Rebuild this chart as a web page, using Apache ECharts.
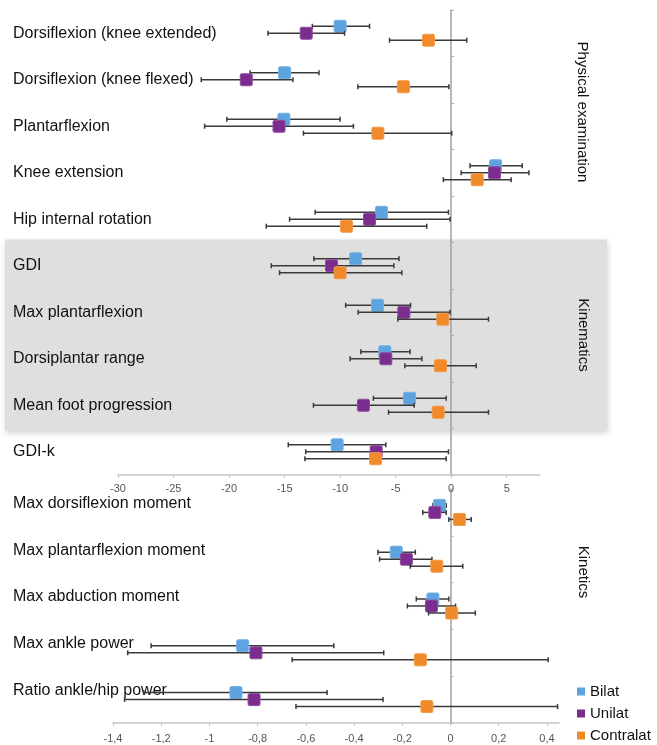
<!DOCTYPE html>
<html>
<head>
<meta charset="utf-8">
<script src="https://cdn.jsdelivr.net/npm/echarts@6/dist/echarts.min.js"></script>
<style>
html,body{margin:0;padding:0;background:#fff;}
#c{width:657px;height:745px;}
</style>
</head>
<body>
<div id="c"></div>
<script>
const physCats = ['Dorsiflexion (knee extended)','Dorsiflexion (knee flexed)','Plantarflexion','Knee extension','Hip internal rotation','GDI','Max plantarflexion','Dorsiplantar range','Mean foot progression','GDI-k'];
const kineticCats = ['Max dorsiflexion moment','Max plantarflexion moment','Max abduction moment','Max ankle power','Ratio ankle/hip power'];
const groupNames = ['Bilat','Unilat','Contralat'];
const sectionLabels = ['Physical examination','Kinematics','Kinetics'];
const kinematicsFrom = 'GDI';
const kinematicsTo = 'Mean foot progression';

// [mean, low, high]
const bilatTop = [
[-10.0,-12.5,-7.35],
[-15.0,-18.1,-11.9],
[-15.06,-20.2,-10.0],
[4.0,1.7,6.4],
[-6.27,-12.25,-0.24],
[-8.6,-12.36,-4.7],
[-6.63,-9.5,-3.66],
[-5.97,-8.13,-3.7],
[-3.75,-7.0,-0.45],
[-10.27,-14.67,-5.88]
];
const unilatTop = [
[-13.05,-16.5,-9.6],
[-18.45,-22.5,-14.25],
[-15.5,-22.2,-8.8],
[3.9,0.9,7.0],
[-7.35,-14.55,-0.1],
[-10.77,-16.2,-5.16],
[-4.26,-8.37,-0.1],
[-5.88,-9.1,-2.64],
[-7.9,-12.4,-3.33],
[-6.75,-13.1,-0.24]
];
const contraTop = [
[-2.04,-5.55,1.4],
[-4.3,-8.4,-0.2],
[-6.6,-13.3,0.05],
[2.34,-0.7,5.4],
[-9.42,-16.65,-2.2],
[-10.0,-15.45,-4.44],
[-0.75,-4.8,3.36],
[-0.96,-4.17,2.25],
[-1.17,-5.64,3.36],
[-6.8,-13.17,-0.45]
];
const bilatBottom = [
[-0.046,-0.073,-0.018],
[-0.225,-0.301,-0.146],
[-0.073,-0.142,-0.007],
[-0.862,-1.242,-0.484],
[-0.890,-1.273,-0.512]
];
const unilatBottom = [
[-0.065,-0.115,-0.018],
[-0.183,-0.294,-0.077],
[-0.079,-0.179,0.021],
[-0.807,-1.339,-0.277],
[-0.815,-1.352,-0.280]
];
const contraBottom = [
[0.037,-0.007,0.086],
[-0.057,-0.167,0.051],
[0.005,-0.091,0.103],
[-0.125,-0.657,0.405],
[-0.098,-0.641,0.444]
];

const colors = ['#5DA3DF','#7B2D8F','#F08A2A'];
const FONT = 'Liberation Sans, Arial, sans-serif';

function makeRender(offsetFrac){
  return function(params, api){
    const m = api.value(0), cat = api.value(1), lo = api.value(2), hi = api.value(3);
    const band = api.size([0,1])[1];
    const p = api.coord([m, cat]);
    const pl = api.coord([lo, cat]);
    const ph = api.coord([hi, cat]);
    const y = p[1] + offsetFrac*band;
    const col = api.visual('color');
    const lineStyle = {stroke:'#3a3a3a', lineWidth:1.5};
    const cap = 2.5;
    const s = 12;
    return {
      type:'group',
      children:[
        {type:'line', shape:{x1:pl[0], y1:y, x2:ph[0], y2:y}, style:lineStyle},
        {type:'line', shape:{x1:pl[0], y1:y-cap, x2:pl[0], y2:y+cap}, style:lineStyle},
        {type:'line', shape:{x1:ph[0], y1:y-cap, x2:ph[0], y2:y+cap}, style:lineStyle},
        {type:'rect', shape:{x:p[0]-s/2, y:y-s/2, width:s, height:s, r:1.5}, style:{fill:col, stroke:echarts.color.lift(col,0.15), lineWidth:1}}
      ]
    };
  };
}

function toData(arr){ return arr.map((d,i)=>[d[0], i, d[1], d[2]]); }

const offsets = [-0.15, 0, 0.15];
const topSets = [bilatTop, unilatTop, contraTop];
const bottomSets = [bilatBottom, unilatBottom, contraBottom];
const series = [];
groupNames.forEach((name, g)=>{
  series.push({type:'custom', name:name, xAxisIndex:0, yAxisIndex:0, renderItem:makeRender(offsets[g]), itemStyle:{color:colors[g]}, encode:{x:0,y:1}, data:toData(topSets[g]), z:3+g});
  series.push({type:'custom', name:name, xAxisIndex:1, yAxisIndex:2, renderItem:makeRender(offsets[g]), itemStyle:{color:colors[g]}, encode:{x:0,y:1}, data:toData(bottomSets[g]), z:3+g});
});

function commaFmt(v){ return String(Number(v.toFixed(1))).replace('.', ','); }

const option = {
  animation:false,
  color:colors,
  textStyle:{fontFamily:FONT},
  grid:[
    {left:118, right:117, top:10, height:465},
    {left:113, right:98, top:489, height:234}
  ],
  xAxis:[
    {gridIndex:0, type:'value', min:-30, max:8, interval:5,
     axisLine:{show:true, onZero:false, lineStyle:{color:'#c4c4c4', width:1.5}},
     axisTick:{show:true, length:3, lineStyle:{color:'#c4c4c4'}},
     axisLabel:{color:'#555', fontSize:11, margin:8, showMaxLabel:false, fontFamily:FONT},
     splitLine:{show:false}},
    {gridIndex:1, type:'value', min:-1.4, max:0.45, interval:0.2,
     axisLine:{show:true, onZero:false, lineStyle:{color:'#c4c4c4', width:1.5}},
     axisTick:{show:true, length:3, lineStyle:{color:'#c4c4c4'}},
     axisLabel:{color:'#555', fontSize:11, margin:10, showMaxLabel:false, formatter:commaFmt, fontFamily:FONT},
     splitLine:{show:false}}
  ],
  yAxis:[
    {gridIndex:0, type:'category', inverse:true, data:physCats,
     axisLine:{show:false, onZero:false}, axisTick:{show:false},
     axisLabel:{margin:105, align:'left', fontSize:16, color:'#111', fontFamily:FONT, verticalAlign:'middle'}},
    {gridIndex:0, type:'category', inverse:true, data:physCats,
     axisLine:{show:true, onZero:true, lineStyle:{color:'#a0a0a0', width:1.5}},
     axisTick:{show:true, length:3, lineStyle:{color:'#b0b0b0'}},
     axisLabel:{show:false}},
    {gridIndex:1, type:'category', inverse:true, data:kineticCats,
     axisLine:{show:false, onZero:false}, axisTick:{show:false},
     axisLabel:{margin:100, align:'left', fontSize:16, color:'#111', fontFamily:FONT, verticalAlign:'bottom', lineHeight:18}},
    {gridIndex:1, type:'category', inverse:true, data:kineticCats,
     axisLine:{show:true, onZero:true, lineStyle:{color:'#a0a0a0', width:1.5}},
     axisTick:{show:true, length:3, lineStyle:{color:'#b0b0b0'}},
     axisLabel:{show:false}}
  ],
  legend:{
    data:groupNames.map(n=>({name:n, icon:'rect'})),
    orient:'vertical', left:577, top:684, padding:0, itemWidth:8, itemHeight:8, itemGap:7,
    textStyle:{fontSize:15, color:'#111', fontFamily:FONT}
  },
  series:series
};

const chart = echarts.init(document.getElementById('c'), null, {renderer:'canvas'});
chart.setOption(option);

const yA = chart.convertToPixel({yAxisIndex:0}, kinematicsFrom);
const yB = chart.convertToPixel({yAxisIndex:0}, kinematicsTo);
const band = chart.convertToPixel({yAxisIndex:0}, physCats[1]) - chart.convertToPixel({yAxisIndex:0}, physCats[0]);
const bandTop = yA - band/2 - 3;
const bandH = (yB - yA) + band + 5;

function sideText(txt, x, y){
  return {type:'text', x:x, y:y, rotation:-Math.PI/2, z:10,
    style:{text:txt, font:'15px ' + FONT, fill:'#111', align:'center', verticalAlign:'middle'}};
}

chart.setOption({
  graphic:[
    {type:'rect', z:-10, zlevel:0, shape:{x:5, y:bandTop, width:602, height:bandH},
     style:{fill:'#dfdfdf', shadowBlur:6, shadowOffsetX:1, shadowOffsetY:2, shadowColor:'rgba(0,0,0,0.18)'}, silent:true},
    sideText(sectionLabels[0], 582, 112),
    sideText(sectionLabels[1], 583, 335),
    sideText(sectionLabels[2], 583, 572)
  ]
});
</script>
</body>
</html>
